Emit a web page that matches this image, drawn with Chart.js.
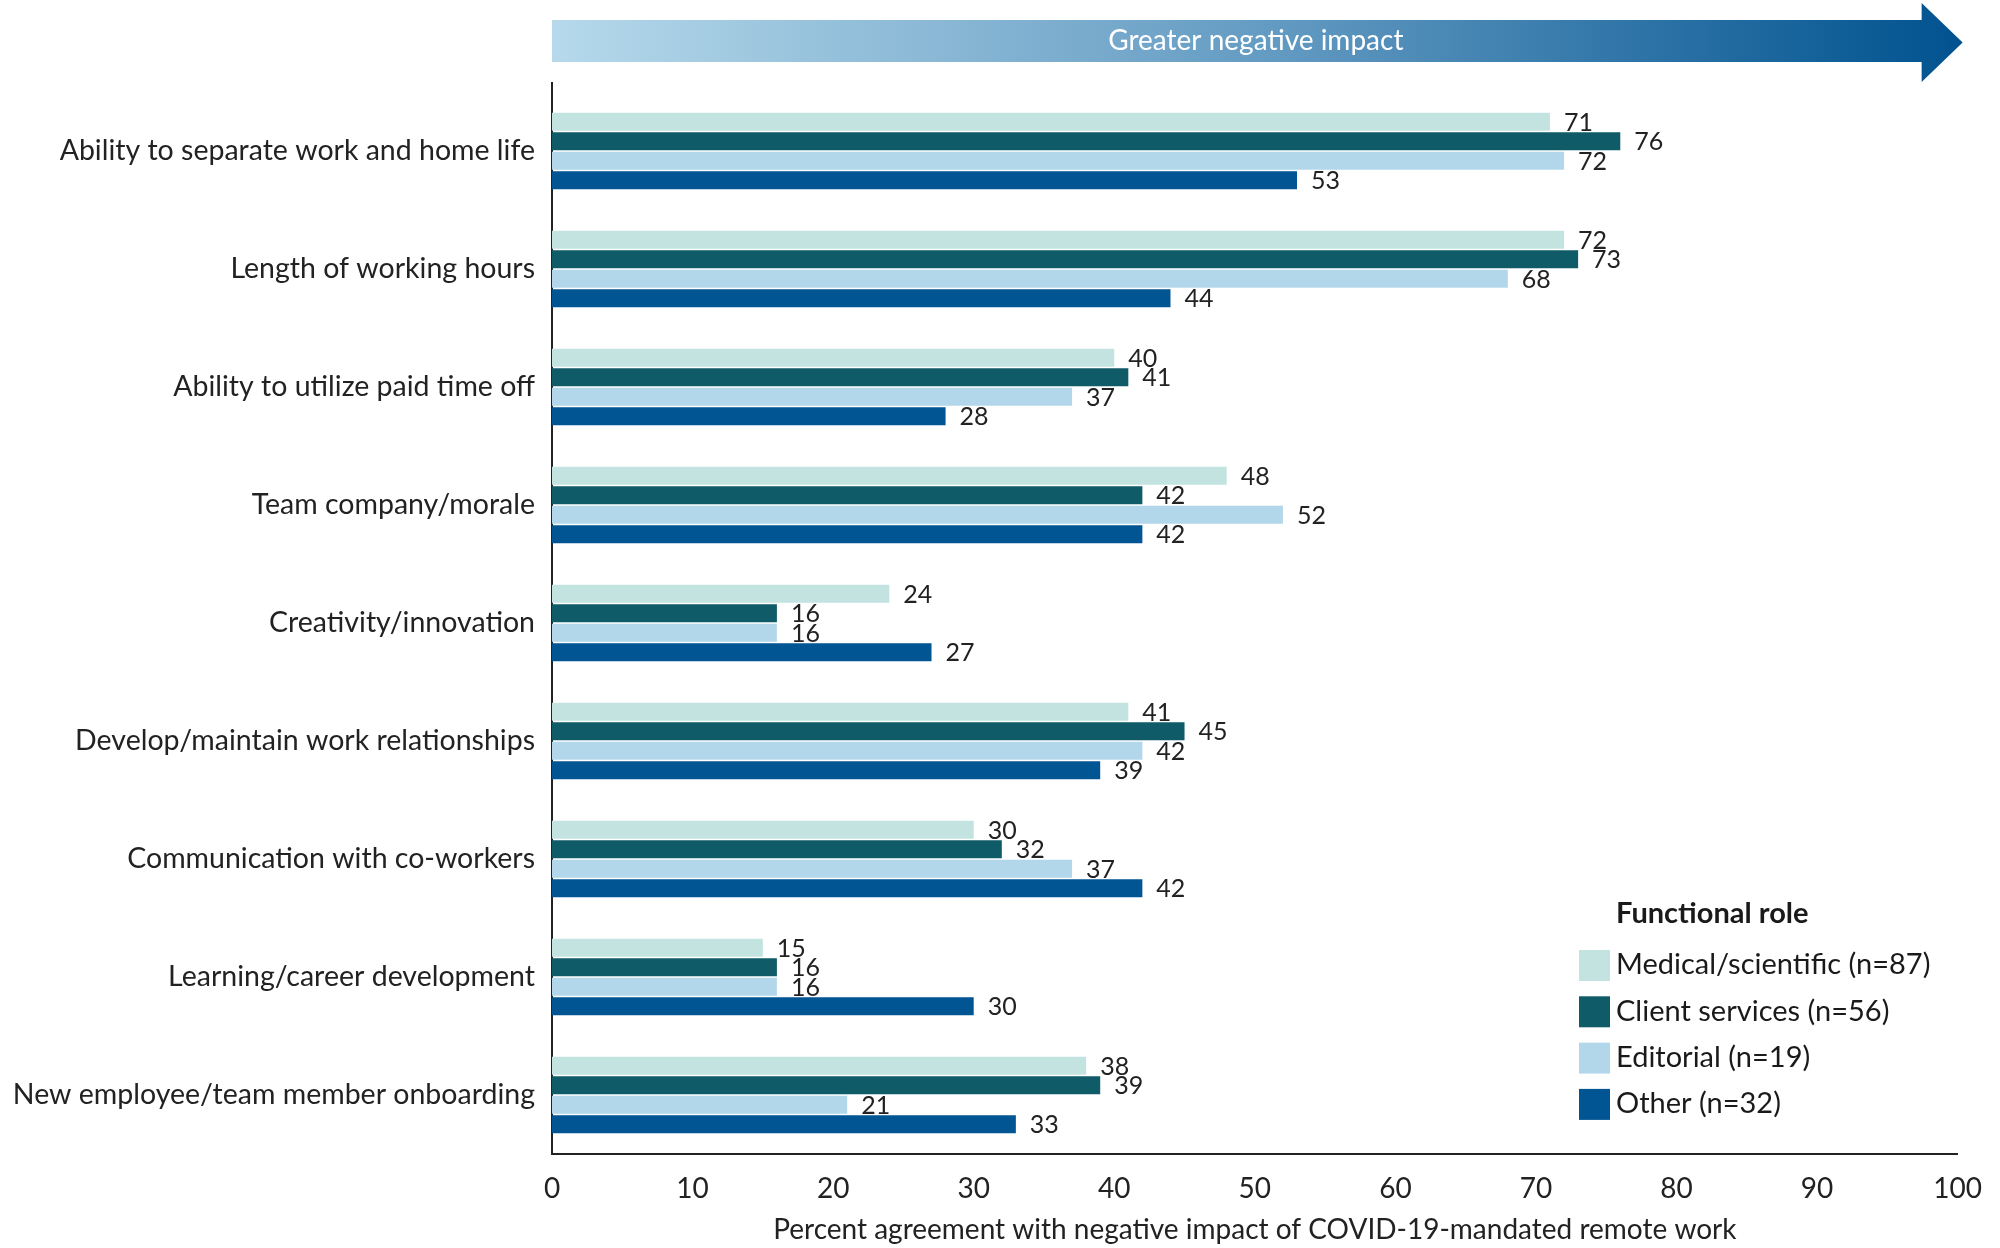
<!DOCTYPE html>
<html>
<head>
<meta charset="utf-8">
<script src="https://cdn.jsdelivr.net/npm/chart.js@4.4.1/dist/chart.umd.min.js"></script>
<style>
  html, body { margin: 0; padding: 0; background: #ffffff; }
  #wrap { position: relative; width: 2000px; height: 1248px; }
  canvas { display: block; }
</style>
</head>
<body>
<div id="wrap"><canvas id="c" width="2000" height="1248"></canvas></div>
<script>
const categories = [
  "Ability to separate work and home life",
  "Length of working hours",
  "Ability to utilize paid time off",
  "Team company/morale",
  "Creativity/innovation",
  "Develop/maintain work relationships",
  "Communication with co-workers",
  "Learning/career development",
  "New employee/team member onboarding"
];
const seriesNames = [
  "Medical/scientific (n=87)",
  "Client services (n=56)",
  "Editorial (n=19)",
  "Other (n=32)"
];
const medicalScientific = [71, 72, 40, 48, 24, 41, 30, 15, 38];
const clientServices    = [76, 73, 41, 42, 16, 45, 32, 16, 39];
const editorial         = [72, 68, 37, 52, 16, 42, 37, 16, 21];
const other             = [53, 44, 28, 42, 27, 39, 42, 30, 33];
const seriesColors = ["#c3e3e1", "#0f5b67", "#b3d7ea", "#005592"];
const xTicks = [0, 10, 20, 30, 40, 50, 60, 70, 80, 90, 100];
const legendTitle = "Functional role";
const arrowText = "Greater negative impact";
const xAxisTitle = "Percent agreement with negative impact of COVID-19-mandated remote work";

const FONT = "Lato, 'Noto Sans', sans-serif";
const seriesValues = [medicalScientific, clientServices, editorial, other];

const dataLabelPlugin = {
  id: 'dataLabels',
  afterDatasetsDraw(chart) {
    const ctx = chart.ctx;
    ctx.save();
    ctx.font = "25px " + FONT;
    ctx.fillStyle = "#222222";
    ctx.textAlign = "left";
    ctx.textBaseline = "middle";
    chart.data.datasets.forEach((ds, i) => {
      const meta = chart.getDatasetMeta(i);
      meta.data.forEach((el, j) => {
        ctx.fillText(String(ds.data[j]), el.x + 14, el.y + 1);
      });
    });
    ctx.restore();
  }
};

const arrowPlugin = {
  id: 'arrow',
  afterDraw(chart) {
    const ctx = chart.ctx;
    const area = chart.chartArea;
    const xs = chart.scales.x;
    const left = area.left;
    ctx.save();
    ctx.strokeStyle = "#222222";
    ctx.lineWidth = 2;
    ctx.beginPath();
    ctx.moveTo(left, 82);
    ctx.lineTo(left, area.top + 1);
    ctx.stroke();
    ctx.restore();

    const tip = xs.getPixelForValue(100) + 5;
    const bodyTop = 20;
    const bodyBot = 62;
    const headTop = 3;
    const headBot = 82;
    const headBase = tip - 41;
    const midY = (bodyTop + bodyBot) / 2;
    const g = ctx.createLinearGradient(left, 0, tip, 0);
    g.addColorStop(0, "#b6d9eb");
    g.addColorStop(0.5, "#659cc3");
    g.addColorStop(1, "#00528f");
    ctx.save();
    ctx.fillStyle = g;
    ctx.beginPath();
    ctx.moveTo(left, bodyTop);
    ctx.lineTo(headBase, bodyTop);
    ctx.lineTo(headBase, headTop);
    ctx.lineTo(tip, (headTop + headBot) / 2);
    ctx.lineTo(headBase, headBot);
    ctx.lineTo(headBase, bodyBot);
    ctx.lineTo(left, bodyBot);
    ctx.closePath();
    ctx.fill();
    ctx.fillStyle = "#ffffff";
    ctx.font = "28px " + FONT;
    ctx.textAlign = "center";
    ctx.textBaseline = "middle";
    ctx.fillText(arrowText, (xs.getPixelForValue(0) + xs.getPixelForValue(100)) / 2 + 1, midY);
    ctx.restore();
  }
};

const legendPlugin = {
  id: 'customLegend',
  afterDraw(chart) {
    const ctx = chart.ctx;
    const boxX = 1579, textX = 1616;
    ctx.save();
    ctx.fillStyle = "#1a1a1a";
    ctx.font = "bold 29px " + FONT;
    ctx.textAlign = "left";
    ctx.textBaseline = "middle";
    ctx.fillText(legendTitle, textX, 914);
    ctx.font = "29px " + FONT;
    seriesNames.forEach((name, i) => {
      const cy = 965 + i * 46.3;
      ctx.fillStyle = seriesColors[i];
      ctx.fillRect(boxX, cy - 15, 31, 31);
      ctx.fillStyle = "#1a1a1a";
      ctx.fillText(name, textX, cy);
    });
    ctx.restore();
  }
};

const datasets = seriesNames.map((name, i) => ({
  label: name,
  data: seriesValues[i],
  backgroundColor: seriesColors[i],
  borderWidth: 0,
  categoryPercentage: 0.66,
  barPercentage: 0.93
}));

new Chart(document.getElementById('c'), {
  type: 'bar',
  data: { labels: categories, datasets: datasets },
  options: {
    indexAxis: 'y',
    responsive: false,
    animation: false,
    devicePixelRatio: 1,
    layout: { padding: { top: 92, right: 31, left: 0, bottom: 0 } },
    plugins: { legend: { display: false }, tooltip: { enabled: false } },
    scales: {
      x: {
        type: 'linear',
        min: 0, max: 100,
        afterBuildTicks(scale) { scale.ticks = xTicks.map(v => ({ value: v })); },
        afterFit(scale) { scale.height = 94; },
        grid: { display: false, drawTicks: false },
        border: { display: true, color: "#222222", width: 2 },
        ticks: { color: "#222222", font: { family: FONT, size: 28 }, padding: 18, maxRotation: 0 },
        title: { display: true, text: xAxisTitle, color: "#222222", font: { family: FONT, size: 28, lineHeight: 1.0 }, padding: { top: 0, bottom: 4 } }
      },
      y: {
        type: 'category',
        afterFit(scale) { scale.width = 552; },
        grid: { display: false, drawTicks: false, offset: true },
        border: { display: true, color: "#222222", width: 2 },
        ticks: { color: "#222222", font: { family: FONT, size: 28.5 }, padding: 17 }
      }
    }
  },
  plugins: [dataLabelPlugin, arrowPlugin, legendPlugin]
});
</script>
</body>
</html>
